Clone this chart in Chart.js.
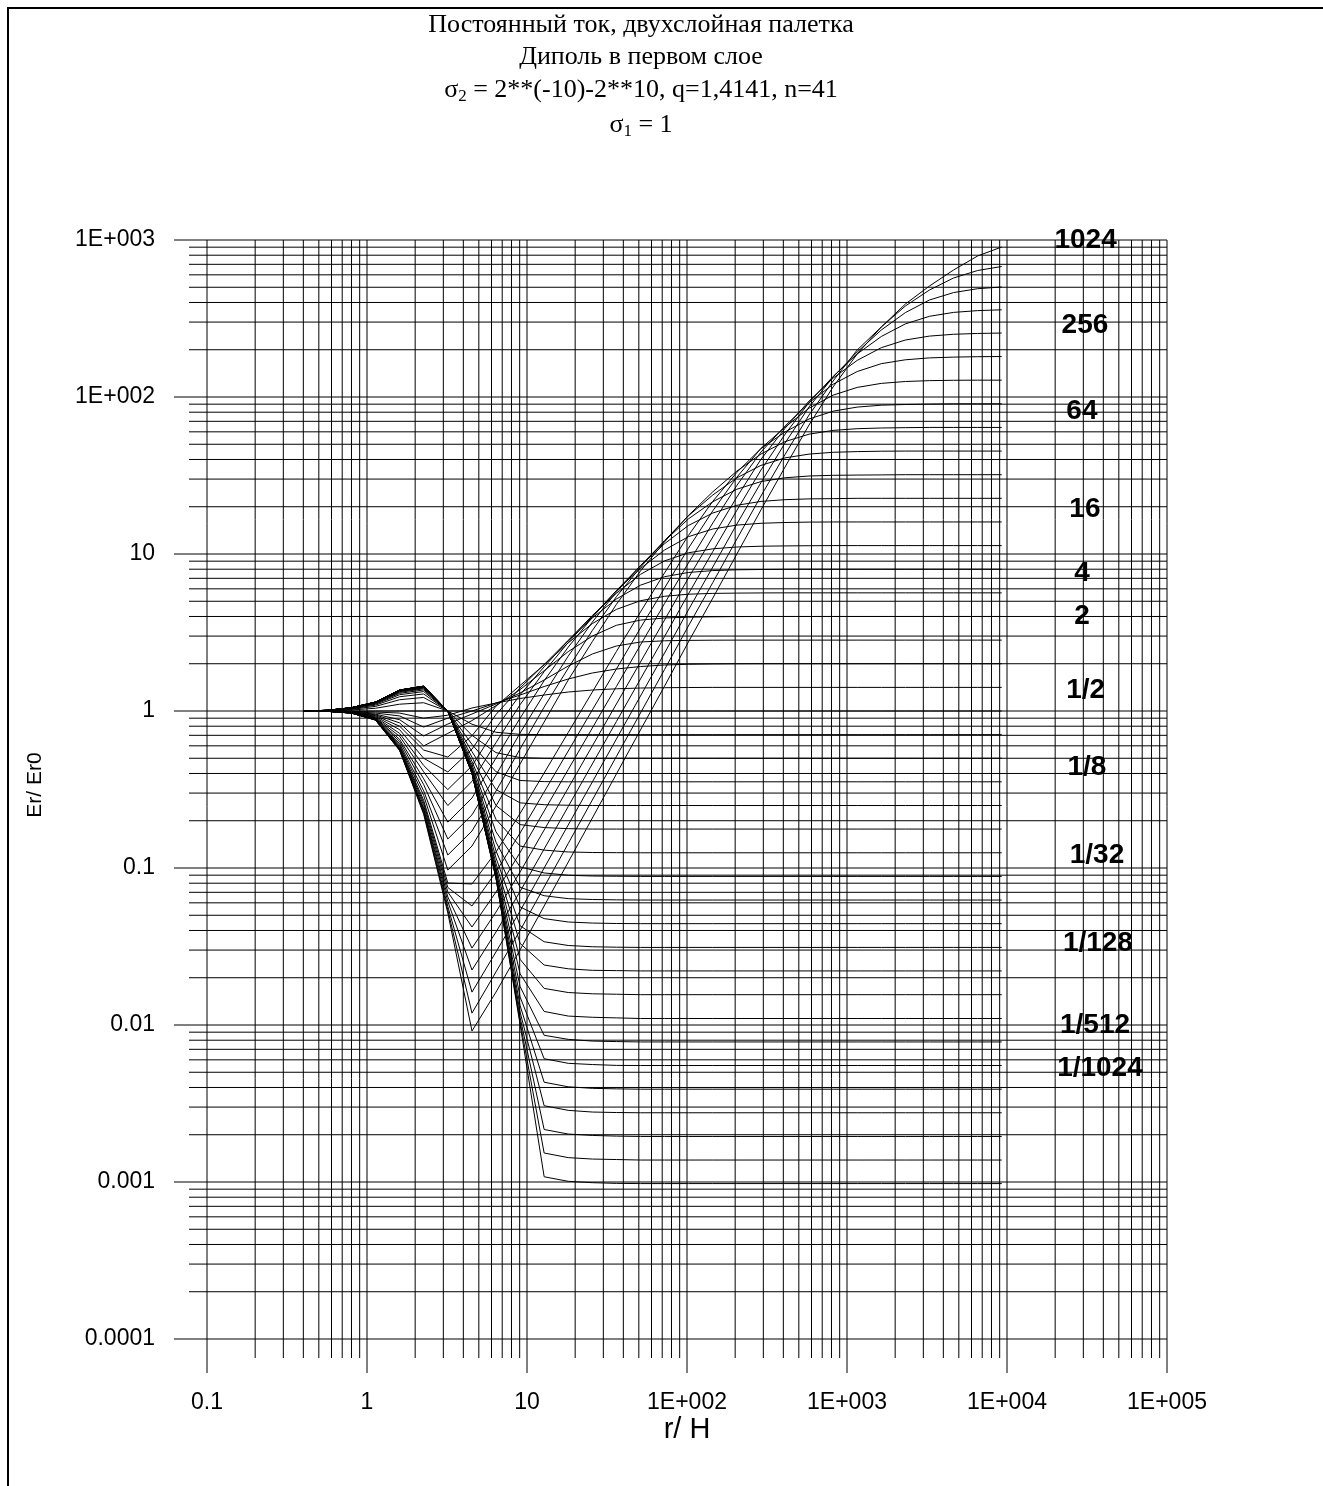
<!DOCTYPE html>
<html>
<head>
<meta charset="utf-8">
<script src="https://cdn.jsdelivr.net/npm/chart.js@4.4.0/dist/chart.umd.min.js"></script>
<style>
  html, body { margin: 0; padding: 0; background: #fff; }
  #wrap { width: 1323px; height: 1486px; }
</style>
</head>
<body>
<div id="wrap"><canvas id="chart" width="1323" height="1486"></canvas></div>
<script>
// r/H sample points (step q = 1.4142)
const r = [0.4, 0.566, 0.8, 1.13, 1.6, 2.26, 3.2, 4.53, 6.4, 9.05,
  12.8, 18.1, 25.6, 36.2, 51.2, 72.4, 102, 145, 205, 290,
  410, 579, 819, 1158, 1638, 2317, 3277, 4634, 6554, 9268];

// sigma2 > 1 : curves going down to the right (c1 = 2**0.5 ... c20 = 2**10)
const c1 = [1, 1.003, 1.015, 1.041, 1.105, 1.129, 1.0, 0.824, 0.732, 0.710,
  0.707, 0.707, 0.707, 0.707, 0.707, 0.707, 0.707, 0.707, 0.707, 0.707,
  0.707, 0.707, 0.707, 0.707, 0.707, 0.707, 0.707, 0.707, 0.707, 0.707];
const c2 = [1, 1.005, 1.025, 1.07, 1.18, 1.22, 1.0, 0.70, 0.543, 0.505,
  0.5, 0.5, 0.5, 0.5, 0.5, 0.5, 0.5, 0.5, 0.5, 0.5,
  0.5, 0.5, 0.5, 0.5, 0.5, 0.5, 0.5, 0.5, 0.5, 0.5];
const c3 = [1, 1.006, 1.032, 1.09, 1.233, 1.284, 1.0, 0.613, 0.41, 0.361,
  0.355, 0.354, 0.354, 0.354, 0.354, 0.354, 0.354, 0.354, 0.354, 0.354,
  0.354, 0.354, 0.354, 0.354, 0.354, 0.354, 0.354, 0.354, 0.354, 0.354];
const c4 = [1, 1.008, 1.038, 1.105, 1.27, 1.33, 1.0, 0.551, 0.316, 0.26,
  0.253, 0.251, 0.25, 0.25, 0.25, 0.25, 0.25, 0.25, 0.25, 0.25,
  0.25, 0.25, 0.25, 0.25, 0.25, 0.25, 0.25, 0.25, 0.25, 0.25];
const c5 = [1, 1.008, 1.041, 1.115, 1.296, 1.362, 1.0, 0.508, 0.25, 0.189,
  0.181, 0.178, 0.177, 0.177, 0.177, 0.177, 0.177, 0.177, 0.177, 0.177,
  0.177, 0.177, 0.177, 0.177, 0.177, 0.177, 0.177, 0.177, 0.177, 0.177];
const c6 = [1, 1.009, 1.044, 1.123, 1.315, 1.385, 1.0, 0.477, 0.204, 0.138,
  0.13, 0.1265, 0.1255, 0.1252, 0.125, 0.125, 0.125, 0.125, 0.125, 0.125,
  0.125, 0.125, 0.125, 0.125, 0.125, 0.125, 0.125, 0.125, 0.125, 0.125];
const c7 = [1, 1.009, 1.046, 1.128, 1.328, 1.401, 1.0, 0.455, 0.17, 0.1017,
  0.093, 0.0899, 0.0889, 0.0886, 0.0884, 0.0884, 0.0884, 0.0884, 0.0884, 0.0884,
  0.0884, 0.0884, 0.0884, 0.0884, 0.0884, 0.0884, 0.0884, 0.0884, 0.0884, 0.0884];
const c8 = [1, 1.009, 1.047, 1.131, 1.338, 1.413, 1.0, 0.439, 0.146, 0.0754,
  0.0666, 0.0638, 0.063, 0.0627, 0.0625, 0.0625, 0.0625, 0.0625, 0.0625, 0.0625,
  0.0625, 0.0625, 0.0625, 0.0625, 0.0625, 0.0625, 0.0625, 0.0625, 0.0625, 0.0625];
const c9 = [1, 1.01, 1.048, 1.134, 1.344, 1.421, 1.0, 0.428, 0.1285, 0.0565,
  0.0476, 0.0453, 0.0446, 0.0443, 0.0442, 0.0442, 0.0442, 0.0442, 0.0442, 0.0442,
  0.0442, 0.0442, 0.0442, 0.0442, 0.0442, 0.0442, 0.0442, 0.0442, 0.0442, 0.0442];
const c10 = [1, 1.01, 1.048, 1.135, 1.349, 1.426, 1.0, 0.42, 0.116, 0.0429,
  0.0339, 0.0321, 0.0315, 0.0313, 0.0312, 0.0312, 0.0312, 0.0312, 0.0312, 0.0312,
  0.0312, 0.0312, 0.0312, 0.0312, 0.0312, 0.0312, 0.0312, 0.0312, 0.0312, 0.0312];
const c11 = [1, 1.01, 1.049, 1.137, 1.352, 1.43, 1.0, 0.414, 0.107, 0.0331,
  0.0241, 0.0228, 0.0223, 0.0222, 0.0221, 0.0221, 0.0221, 0.0221, 0.0221, 0.0221,
  0.0221, 0.0221, 0.0221, 0.0221, 0.0221, 0.0221, 0.0221, 0.0221, 0.0221, 0.0221];
const c12 = [1, 1.01, 1.049, 1.138, 1.355, 1.433, 1.0, 0.41, 0.1007, 0.0262,
  0.0171, 0.0161, 0.0158, 0.0157, 0.0156, 0.0156, 0.0156, 0.0156, 0.0156, 0.0156,
  0.0156, 0.0156, 0.0156, 0.0156, 0.0156, 0.0156, 0.0156, 0.0156, 0.0156, 0.0156];
const c13 = [1, 1.01, 1.049, 1.139, 1.357, 1.435, 1.0, 0.407, 0.0961, 0.0212,
  0.0122, 0.0114, 0.0112, 0.0111, 0.0110, 0.0110, 0.0110, 0.0110, 0.0110, 0.0110,
  0.0110, 0.0110, 0.0110, 0.0110, 0.0110, 0.0110, 0.0110, 0.0110, 0.0110, 0.0110];
const c14 = [1, 1.01, 1.05, 1.139, 1.358, 1.437, 1.0, 0.405, 0.0929, 0.0176,
  0.0086, 0.0081, 0.0079, 0.00784, 0.0078, 0.0078, 0.0078, 0.0078, 0.0078, 0.0078,
  0.0078, 0.0078, 0.0078, 0.0078, 0.0078, 0.0078, 0.0078, 0.0078, 0.0078, 0.0078];
const c15 = [1, 1.01, 1.05, 1.139, 1.358, 1.438, 1.0, 0.404, 0.0906, 0.0151,
  0.0061, 0.0057, 0.0056, 0.00553, 0.00552, 0.00552, 0.00552, 0.00552, 0.00552, 0.00552,
  0.00552, 0.00552, 0.00552, 0.00552, 0.00552, 0.00552, 0.00552, 0.00552, 0.00552, 0.00552];
const c16 = [1, 1.01, 1.05, 1.139, 1.359, 1.438, 1.0, 0.4025, 0.089, 0.0133,
  0.00432, 0.00404, 0.00395, 0.00392, 0.0039, 0.0039, 0.0039, 0.0039, 0.0039, 0.0039,
  0.0039, 0.0039, 0.0039, 0.0039, 0.0039, 0.0039, 0.0039, 0.0039, 0.0039, 0.0039];
const c17 = [1, 1.01, 1.05, 1.14, 1.359, 1.439, 1.0, 0.402, 0.0878, 0.0121,
  0.00306, 0.00286, 0.00279, 0.00277, 0.00276, 0.00276, 0.00276, 0.00276, 0.00276, 0.00276,
  0.00276, 0.00276, 0.00276, 0.00276, 0.00276, 0.00276, 0.00276, 0.00276, 0.00276, 0.00276];
const c18 = [1, 1.01, 1.05, 1.14, 1.359, 1.439, 1.0, 0.401, 0.087, 0.0112,
  0.00216, 0.00202, 0.00198, 0.00196, 0.00195, 0.00195, 0.00195, 0.00195, 0.00195, 0.00195,
  0.00195, 0.00195, 0.00195, 0.00195, 0.00195, 0.00195, 0.00195, 0.00195, 0.00195, 0.00195];
const c19 = [1, 1.01, 1.05, 1.14, 1.36, 1.439, 1.0, 0.401, 0.0864, 0.0105,
  0.00153, 0.00143, 0.0014, 0.00139, 0.00138, 0.00138, 0.00138, 0.00138, 0.00138, 0.00138,
  0.00138, 0.00138, 0.00138, 0.00138, 0.00138, 0.00138, 0.00138, 0.00138, 0.00138, 0.00138];
const c20 = [1, 1.01, 1.05, 1.14, 1.36, 1.44, 1.0, 0.4006, 0.086, 0.0101,
  0.00108, 0.00101, 0.00099, 0.00098, 0.000977, 0.000977, 0.000977, 0.000977, 0.000977, 0.000977,
  0.000977, 0.000977, 0.000977, 0.000977, 0.000977, 0.000977, 0.000977, 0.000977, 0.000977, 0.000977];

// sigma2 = 1
const one = [1, 1, 1, 1, 1, 1, 1, 1, 1, 1,
  1, 1, 1, 1, 1, 1, 1, 1, 1, 1,
  1, 1, 1, 1, 1, 1, 1, 1, 1, 1];

// sigma2 < 1 : curves going up to the right (p1 = 2**0.5 ... p20 = 1024)
const p1 = [1, 1.0, 0.996, 0.985, 0.97, 0.90, 0.94, 1.045, 1.124, 1.201,
  1.264, 1.321, 1.36, 1.385, 1.401, 1.407, 1.411, 1.414, 1.414, 1.414,
  1.414, 1.414, 1.414, 1.414, 1.414, 1.414, 1.414, 1.414, 1.414, 1.414];
const p2 = [1, 0.999, 0.992, 0.97, 0.93, 0.79, 0.90, 1.0, 1.124, 1.264,
  1.432, 1.599, 1.746, 1.851, 1.92, 1.963, 1.984, 1.993, 1.998, 2,
  2, 2, 2, 2, 2, 2, 2, 2, 2, 2];
const p3 = [1, 0.999, 0.988, 0.955, 0.88, 0.693, 0.826, 0.957, 1.108, 1.302,
  1.576, 1.934, 2.307, 2.594, 2.751, 2.8, 2.817, 2.825, 2.828, 2.828,
  2.828, 2.828, 2.828, 2.828, 2.828, 2.828, 2.828, 2.828, 2.828, 2.828];
const p4 = [1, 0.998, 0.985, 0.945, 0.84, 0.599, 0.72, 0.869, 1.082, 1.369,
  1.806, 2.389, 3.0, 3.515, 3.793, 3.912, 3.958, 3.981, 3.994, 4,
  4, 4, 4, 4, 4, 4, 4, 4, 4, 4];
const p5 = [1, 0.998, 0.982, 0.935, 0.80, 0.564, 0.509, 0.696, 1.073, 1.454,
  1.969, 2.716, 3.604, 4.438, 5.041, 5.378, 5.546, 5.611, 5.636, 5.65,
  5.657, 5.657, 5.657, 5.657, 5.657, 5.657, 5.657, 5.657, 5.657, 5.657];
const p6 = [1, 0.997, 0.98, 0.925, 0.76, 0.50, 0.409, 0.572, 0.95, 1.401,
  1.978, 2.817, 3.912, 5.168, 6.329, 7.169, 7.625, 7.84, 7.932, 7.967,
  7.99, 8, 8, 8, 8, 8, 8, 8, 8, 8];
const p7 = [1, 0.997, 0.978, 0.915, 0.72, 0.45, 0.316, 0.447, 0.777, 1.27,
  1.912, 2.812, 4.058, 5.619, 7.417, 9.04, 10.18, 10.79, 11.08, 11.21,
  11.26, 11.29, 11.31, 11.31, 11.31, 11.31, 11.31, 11.31, 11.31, 11.31];
const p8 = [1, 0.997, 0.976, 0.905, 0.69, 0.41, 0.25, 0.356, 0.629, 1.097,
  1.78, 2.735, 4.0, 5.837, 8.083, 10.6, 12.89, 14.43, 15.28, 15.69,
  15.87, 15.96, 16, 16, 16, 16, 16, 16, 16, 16];
const p9 = [1, 0.996, 0.975, 0.90, 0.66, 0.37, 0.196, 0.279, 0.502, 0.90,
  1.56, 2.553, 3.947, 5.846, 8.40, 11.63, 15.19, 18.24, 20.43, 21.63,
  22.18, 22.44, 22.52, 22.63, 22.63, 22.63, 22.63, 22.63, 22.63, 22.63];
const p10 = [1, 0.996, 0.974, 0.895, 0.64, 0.34, 0.153, 0.218, 0.391, 0.724,
  1.285, 2.237, 3.684, 5.728, 8.44, 12.1, 16.73, 21.54, 25.86, 28.92,
  30.58, 31.39, 31.71, 31.82, 31.9, 32, 32, 32, 32, 32];
const p11 = [1, 0.996, 0.973, 0.89, 0.62, 0.31, 0.121, 0.172, 0.309, 0.573,
  1.06, 1.873, 3.257, 5.346, 8.24, 12.17, 17.49, 23.76, 30.58, 36.67,
  40.94, 43.28, 44.45, 44.9, 45.16, 45.25, 45.25, 45.25, 45.25, 45.25];
const p12 = [1, 0.996, 0.972, 0.887, 0.605, 0.29, 0.0971, 0.138, 0.248, 0.46,
  0.851, 1.576, 2.767, 4.781, 7.794, 11.96, 17.59, 24.9, 33.73, 43.35,
  51.98, 57.97, 61.29, 62.83, 63.47, 63.8, 64, 64, 64, 64];
const p13 = [1, 0.996, 0.971, 0.885, 0.595, 0.27, 0.0802, 0.0791, 0.1264, 0.2224,
  0.4028, 0.7296, 1.321, 2.393, 4.272, 7.58, 13.12, 21.66, 33.14, 46.93,
  59.85, 72.42, 81.22, 86.25, 88.67, 89.58, 90.1, 90.5, 90.5, 90.5];
const p14 = [1, 0.996, 0.971, 0.883, 0.585, 0.26, 0.0751, 0.0573, 0.0943, 0.167,
  0.305, 0.556, 1.015, 1.851, 3.379, 6.073, 10.87, 18.85, 30.85, 47.07,
  64.23, 84.86, 102.8, 115.1, 122.1, 125.5, 127.1, 127.8, 128, 128];
const p15 = [1, 0.995, 0.971, 0.881, 0.578, 0.25, 0.0703, 0.0421, 0.0703, 0.1255,
  0.2307, 0.424, 0.779, 1.432, 2.633, 4.838, 8.76, 15.76, 27.35, 44.64,
  65.27, 91.86, 120.6, 145.3, 163, 172.6, 177.5, 179.5, 180.6, 181];
const p16 = [1, 0.995, 0.97, 0.879, 0.572, 0.24, 0.0654, 0.0309, 0.0524, 0.0943,
  0.1746, 0.3233, 0.599, 1.108, 2.051, 3.798, 7.03, 12.83, 23.07, 40.11,
  63.2, 94.2, 131.9, 171.1, 206.1, 230.7, 244.3, 250.9, 253.9, 255.5];
const p17 = [1, 0.995, 0.97, 0.878, 0.568, 0.235, 0.0612, 0.0224, 0.0391, 0.0708,
  0.1321, 0.2464, 0.46, 0.857, 1.599, 2.982, 5.563, 10.37, 18.98, 34.28,
  57.88, 92.25, 135.3, 187.9, 242.9, 292.2, 326.6, 345.8, 355, 359.3];
const p18 = [1, 0.995, 0.97, 0.877, 0.565, 0.23, 0.0569, 0.0162, 0.0292, 0.0532,
  0.1, 0.188, 0.353, 0.663, 1.246, 2.341, 4.399, 8.265, 15.53, 28.5,
  50.93, 86.37, 134.1, 193.4, 267.2, 344.8, 414.8, 462.4, 489.6, 501.9];
const p19 = [1, 0.995, 0.97, 0.876, 0.562, 0.225, 0.054, 0.0119, 0.0218, 0.04,
  0.0757, 0.1432, 0.271, 0.513, 0.971, 1.837, 3.478, 6.58, 12.46, 23.41,
  43.04, 76.8, 126.5, 199.3, 279.2, 379.8, 480.3, 572.8, 639.3, 678];
const p20 = [1, 0.995, 0.97, 0.875, 0.56, 0.22, 0.0517, 0.00916, 0.0162, 0.0301,
  0.0573, 0.109, 0.208, 0.397, 0.757, 1.44, 2.75, 5.24, 10.0, 19.1,
  35.8, 66.3, 116, 187.9, 279.2, 391.1, 509.3, 644.1, 791.1, 902.4];

const curves = [c20, c19, c18, c17, c16, c15, c14, c13, c12, c11, c10, c9, c8, c7, c6, c5, c4, c3, c2, c1,
  one, p1, p2, p3, p4, p5, p6, p7, p8, p9, p10, p11, p12, p13, p14, p15, p16, p17, p18, p19, p20];

// axis ticks
const xTickVals = [0.1, 1, 10, 100, 1000, 10000, 100000];
const xTickText = ['0.1', '1', '10', '1E+002', '1E+003', '1E+004', '1E+005'];
const yTickVals = [1000, 100, 10, 1, 0.1, 0.01, 0.001, 0.0001];
const yTickText = ['1E+003', '1E+002', '10', '1', '0.1', '0.01', '0.001', '0.0001'];

// curve tags at the right side
const tagText = ['1024', '256', '64', '16', '4', '2', '1/2', '1/8', '1/32', '1/128', '1/512', '1/1024'];
const tagX = [31000, 30700, 29400, 30700, 29400, 29400, 31000, 31600, 36500, 37000, 35500, 38100];
const tagY = [1000, 288, 81.5, 19.4, 7.57, 4.03, 1.36, 0.44, 0.121, 0.0333, 0.01, 0.00532];

const SANS = '"Liberation Sans", Arial, sans-serif';
const SERIF = '"Liberation Serif", "Times New Roman", serif';

const decorations = {
  id: 'decorations',
  beforeDatasetsDraw(chart) {
    const ctx = chart.ctx, xs = chart.scales.x, ys = chart.scales.y, a = chart.chartArea;
    ctx.save();
    ctx.strokeStyle = '#000';
    ctx.lineWidth = 1;
    ctx.beginPath();
    // vertical grid, long tick for each decade
    for (let e = -1; e <= 5; e++) {
      for (let m = 1; m <= 9; m++) {
        const v = m * Math.pow(10, e);
        if (v > 100001) break;
        const px = xs.getPixelForValue(v);
        ctx.moveTo(px, a.top);
        ctx.lineTo(px, a.bottom + (m === 1 ? 34 : 19));
      }
    }
    // horizontal grid
    for (let e = -4; e <= 3; e++) {
      for (let m = 1; m <= 9; m++) {
        const v = m * Math.pow(10, e);
        if (v > 1001) break;
        const py = ys.getPixelForValue(v);
        ctx.moveTo(a.left - (m === 1 ? 33 : 18), py);
        ctx.lineTo(a.right, py);
      }
    }
    ctx.stroke();
    ctx.restore();
  },
  afterDraw(chart) {
    const ctx = chart.ctx, xs = chart.scales.x, ys = chart.scales.y, a = chart.chartArea;
    ctx.save();
    ctx.fillStyle = '#000';

    // tick labels
    ctx.font = '23px ' + SANS;
    ctx.textAlign = 'right';
    ctx.textBaseline = 'middle';
    yTickVals.forEach((v, i) => ctx.fillText(yTickText[i], 155, ys.getPixelForValue(v)));
    ctx.textAlign = 'center';
    xTickVals.forEach((v, i) => ctx.fillText(xTickText[i], xs.getPixelForValue(v), 1403));

    // axis titles
    ctx.font = '29px ' + SANS;
    ctx.fillText('r/ H', (a.left + a.right) / 2, 1430);
    ctx.save();
    ctx.translate(35, 785);
    ctx.rotate(-Math.PI / 2);
    ctx.font = '21px ' + SANS;
    ctx.fillText('Er/ Er0', 0, 0);
    ctx.restore();

    // curve tags
    ctx.font = 'bold 28px ' + SANS;
    tagText.forEach((t, i) => ctx.fillText(t, xs.getPixelForValue(tagX[i]), ys.getPixelForValue(tagY[i])));

    // title block
    const cx = 641;
    ctx.font = '26px ' + SERIF;
    ctx.fillText('Постоянный ток, двухслойная палетка', cx, 25);
    ctx.fillText('Диполь в первом слое', cx, 57);
    const subLine = (y, pre, sub, post) => {
      ctx.font = '26px ' + SERIF;
      const w1 = ctx.measureText(pre).width, w3 = ctx.measureText(post).width;
      ctx.font = '17px ' + SERIF;
      const w2 = ctx.measureText(sub).width;
      const x = cx - (w1 + w2 + w3) / 2;
      ctx.textAlign = 'left';
      ctx.font = '26px ' + SERIF;
      ctx.fillText(pre, x, y);
      ctx.font = '17px ' + SERIF;
      ctx.fillText(sub, x + w1, y + 7);
      ctx.font = '26px ' + SERIF;
      ctx.fillText(post, x + w1 + w2, y);
      ctx.textAlign = 'center';
    };
    subLine(90, 'σ', '2', ' = 2**(-10)-2**10, q=1,4141, n=41');
    subLine(125, 'σ', '1', ' = 1');

    // outer frame
    ctx.lineWidth = 2;
    ctx.strokeStyle = '#000';
    ctx.strokeRect(8, 8, 1400, 1600);
    ctx.restore();
  }
};

new Chart(document.getElementById('chart'), {
  type: 'line',
  data: {
    datasets: curves.map(ys => ({
      data: ys.map((y, i) => ({ x: r[i], y: y })),
      borderColor: '#000',
      borderWidth: 1,
      pointRadius: 0,
      fill: false,
      tension: 0
    }))
  },
  options: {
    responsive: false,
    devicePixelRatio: 1,
    animation: false,
    layout: { padding: { top: 240, right: 156, bottom: 0, left: 0 } },
    plugins: { legend: { display: false }, tooltip: { enabled: false }, title: { display: false } },
    scales: {
      x: {
        type: 'logarithmic', min: 0.1, max: 100000,
        grid: { display: false }, border: { display: false }, ticks: { display: false },
        afterFit: s => { s.height = 147; }
      },
      y: {
        type: 'logarithmic', min: 0.0001, max: 1000,
        grid: { display: false }, border: { display: false }, ticks: { display: false },
        afterFit: s => { s.width = 207; }
      }
    }
  },
  plugins: [decorations]
});
</script>
</body>
</html>
